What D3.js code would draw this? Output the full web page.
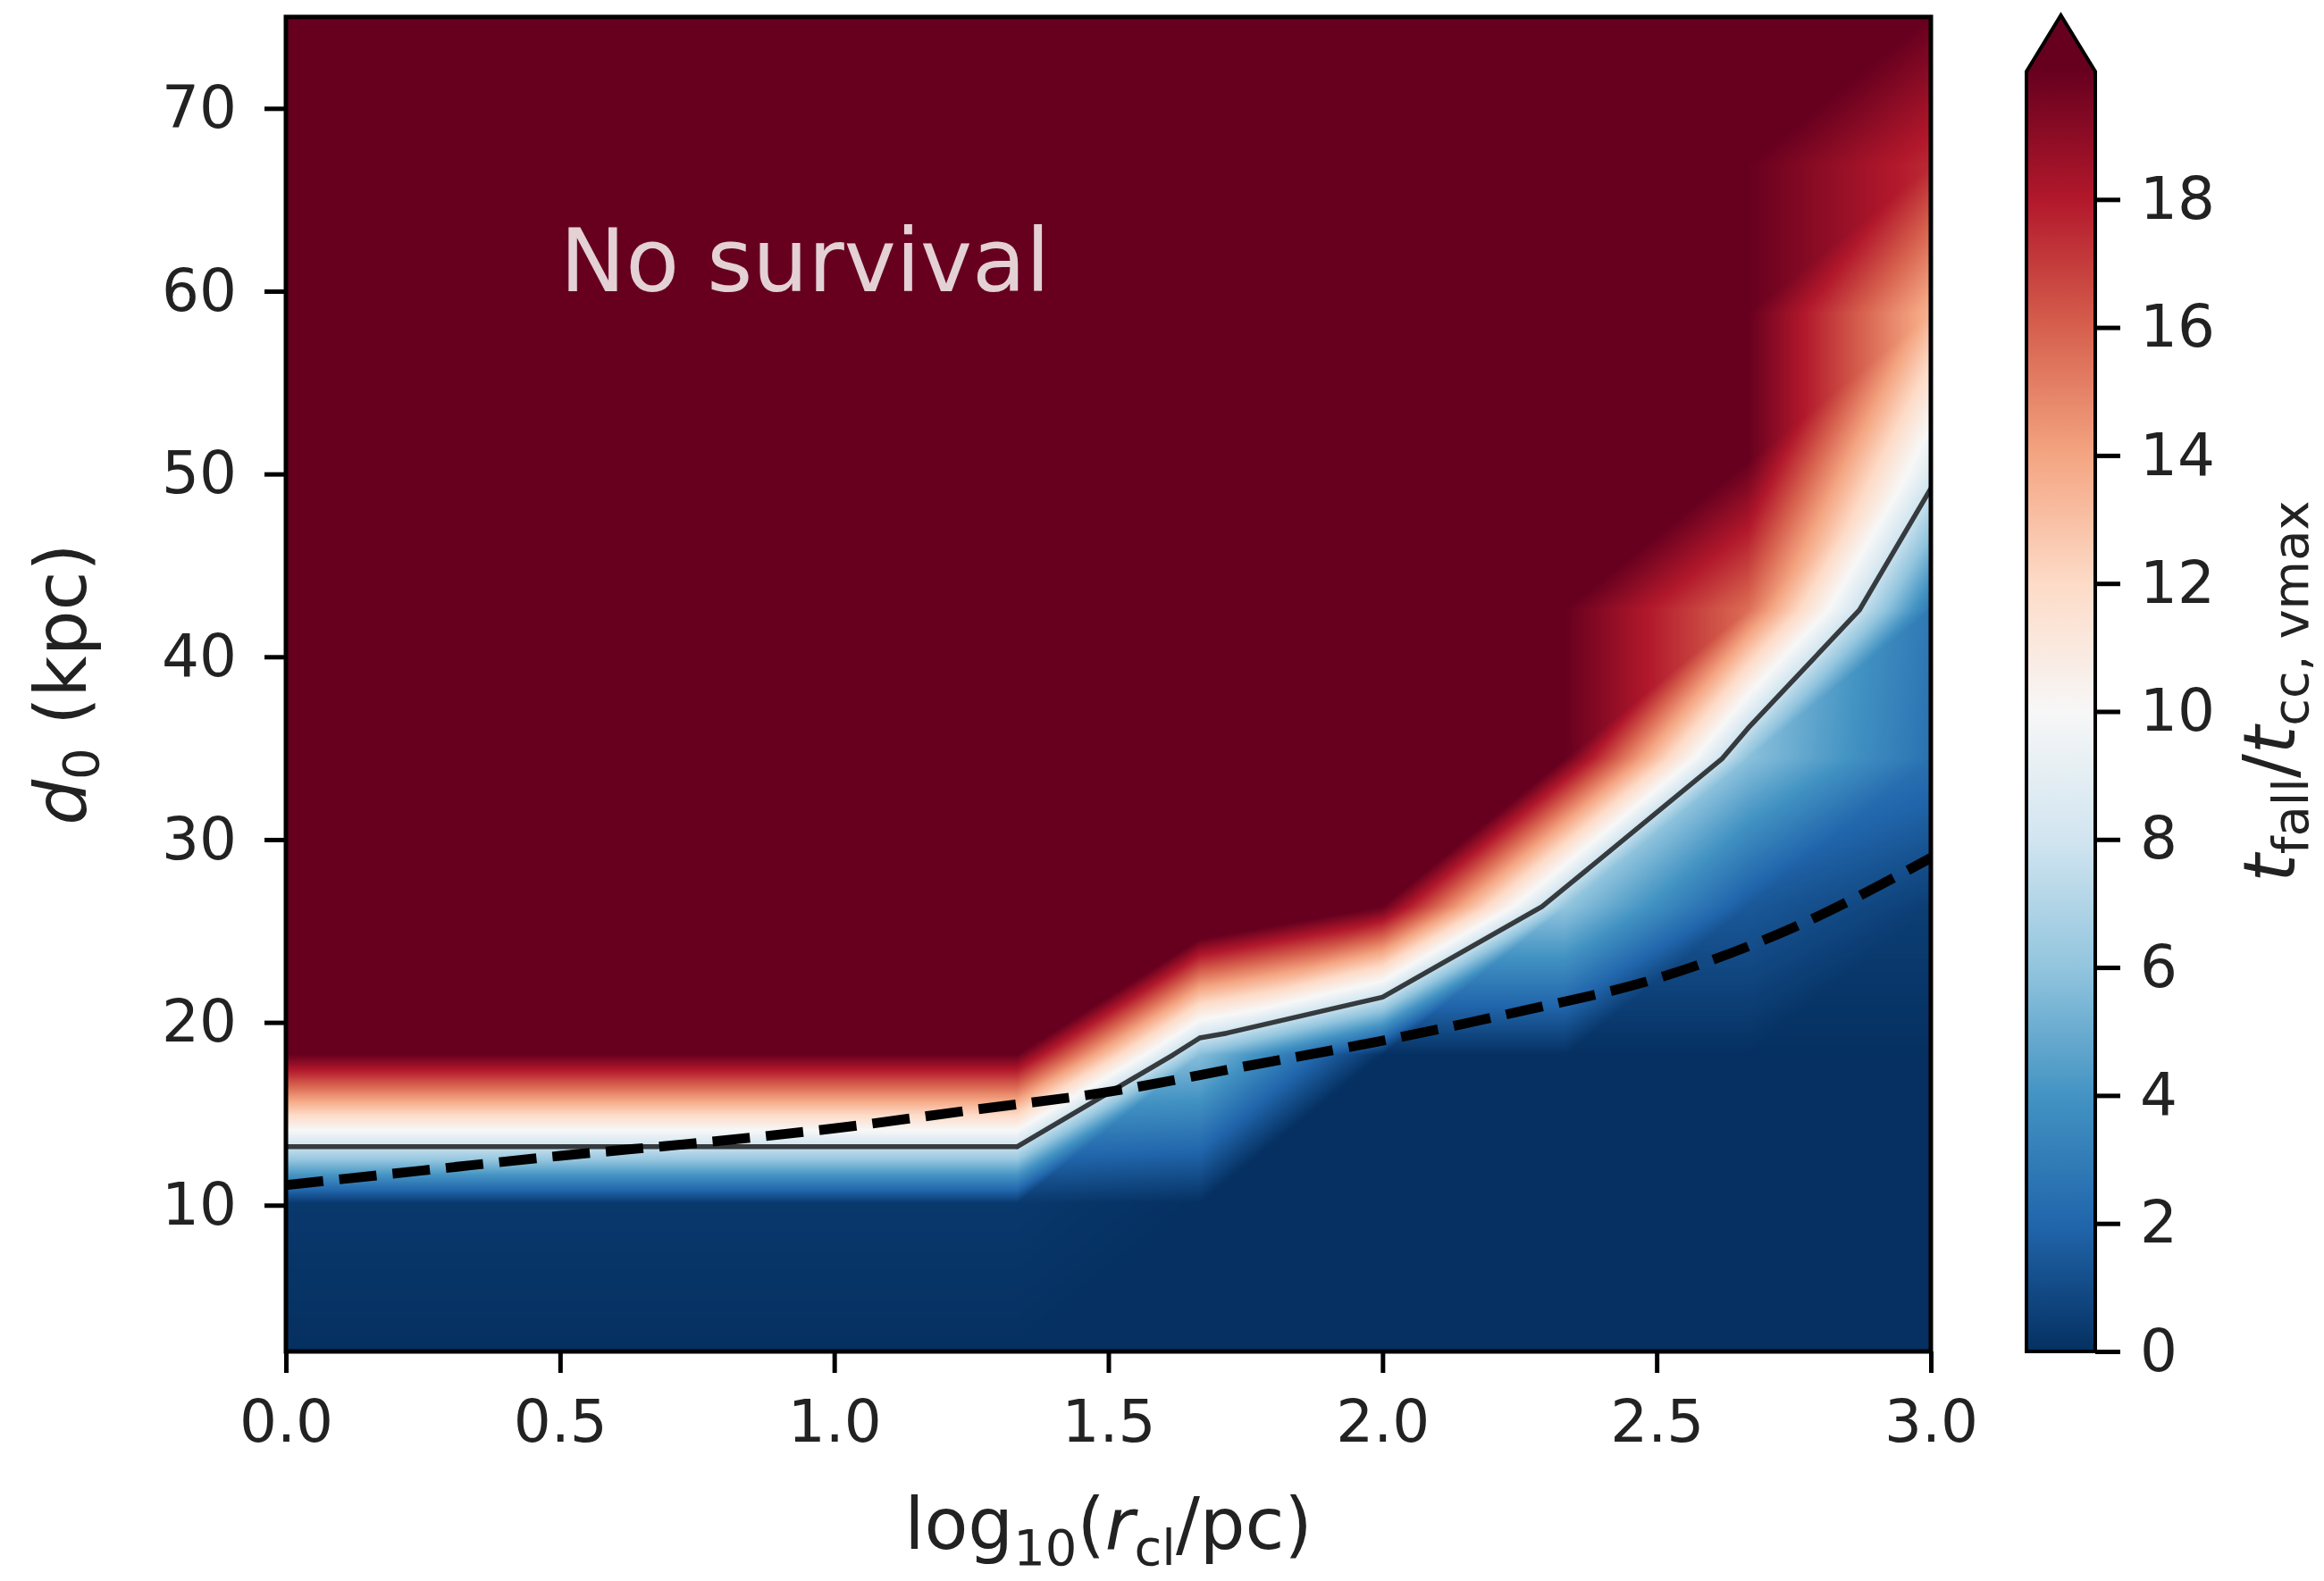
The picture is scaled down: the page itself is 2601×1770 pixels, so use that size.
<!DOCTYPE html>
<html>
<head>
<meta charset="utf-8">
<script src="https://cdn.jsdelivr.net/npm/d3@7/dist/d3.min.js"></script>
<style>
html,body{margin:0;padding:0;background:#fff;}
svg{display:block;font-family:"DejaVu Sans",sans-serif;}
</style>
</head>
<body>
<svg id="fig" width="2601" height="1770"></svg>
<script>
// ---------------- data ----------------
// grid nodes: log10(r_cl/pc) columns and d0 (kpc) rows
const xNodes = [0, 0.3333, 0.6667, 1, 1.3333, 1.6667, 2, 2.3333, 2.6667, 3];
const dNodes = [2, 10.11, 18.22, 26.33, 34.44, 42.56, 50.67, 58.78, 66.89, 75];
// t_fall / t_cc,vmax on the grid (one row per d0 node; 20 and above = no survival)
const row0 = [0, 0, 0, 0, 0, 0, 0, 0, 0, 0];
const row1 = [0.3, 0.3, 0.3, 0.3, 0.3, 0, 0, 0, 0, 0];
const row2 = [20, 20, 20, 20, 20, 5.7, 0, 0, 0, 0];
const row3 = [20, 20, 20, 20, 20, 24, 20, 6.0, 1.5, 0.5];
const row4 = [20, 20, 20, 20, 20, 20, 20, 20, 5.8, 2.5];
const row5 = [20, 20, 20, 20, 20, 20, 20, 20, 15.6, 2.8];
const row6 = [20, 20, 20, 20, 20, 20, 20, 20, 20, 8.9];
const row7 = [20, 20, 20, 20, 20, 20, 20, 20, 20, 13.5];
const row8 = [20, 20, 20, 20, 20, 20, 20, 20, 20, 17.5];
const row9 = [20, 20, 20, 20, 20, 20, 20, 20, 20, 20];
const tRatio = [row0, row1, row2, row3, row4, row5, row6, row7, row8, row9];
const contourLevel = 7.8;
// dashed curve
const limitX  = [0, 0.25, 0.5, 0.75, 1.0, 1.25, 1.5, 1.75, 2.0, 2.25, 2.5, 2.75, 3.0];
const limitD0 = [11.1, 11.9, 12.7, 13.4, 14.2, 15.2, 16.2, 17.6, 19.0, 20.6, 22.4, 25.2, 29.0];
// ticks
const xTicks = [0, 0.5, 1.0, 1.5, 2.0, 2.5, 3.0];
const yTicks = [10, 20, 30, 40, 50, 60, 70];
const cbTicks = [0, 2, 4, 6, 8, 10, 12, 14, 16, 18];
const vmin = 0, vmax = 20;
const annotation = {x: 0.5, y: 60, text: "No survival"};

// ---------------- layout ----------------
const L = 320, R = 2161, T = 19, B = 1513;
const cbL = 2268, cbR = 2345, cbTop = 80, cbTip = 17;
const svg = d3.select("#fig");
const defs = svg.append("defs");

const x = d3.scaleLinear().domain(d3.extent(xNodes)).range([L, R]);
const y = d3.scaleLinear().domain(d3.extent(dNodes)).range([B, T]);

// RdBu_r colormap (matplotlib anchor colours)
const rdbuR = ["#053061","#2166ac","#4393c3","#92c5de","#d1e5f0","#f7f7f7",
               "#fddbc7","#f4a582","#d6604d","#b2182b","#67001f"];
const cmap = d3.scaleLinear()
  .domain(rdbuR.map((_, k) => vmin + k * (vmax - vmin) / (rdbuR.length - 1)))
  .range(rdbuR).interpolate(d3.interpolateRgb).clamp(true);
const LUTN = 1024;
const lut = d3.range(LUTN).map(k => d3.rgb(cmap(vmin + (vmax - vmin) * k / (LUTN - 1))));

// gouraud shading on a triangulated grid (each quad split along its rising diagonal)
function fieldValue(xv, dv) {
  const j = Math.min(Math.max(d3.bisectRight(xNodes, xv) - 1, 0), xNodes.length - 2);
  const i = Math.min(Math.max(d3.bisectRight(dNodes, dv) - 1, 0), dNodes.length - 2);
  const u = (xv - xNodes[j]) / (xNodes[j + 1] - xNodes[j]);
  const v = (dv - dNodes[i]) / (dNodes[i + 1] - dNodes[i]);
  const a = tRatio[i][j], b = tRatio[i][j + 1], c = tRatio[i + 1][j + 1], d = tRatio[i + 1][j];
  if (v <= u) return a + (b - a) * u + (c - b) * v;
  return a + (c - d) * u + (d - a) * v;
}

// field image
const pw = R - L, ph = B - T;
const canvas = document.createElement("canvas");
canvas.width = pw; canvas.height = ph;
const ctx = canvas.getContext("2d");
const img = ctx.createImageData(pw, ph);
const xs = d3.range(pw).map(px => x.invert(L + px + 0.5));
for (let py = 0; py < ph; py++) {
  const dv = y.invert(T + py + 0.5);
  for (let px = 0; px < pw; px++) {
    const val = fieldValue(xs[px], dv);
    let k = Math.round((val - vmin) / (vmax - vmin) * (LUTN - 1));
    k = Math.max(0, Math.min(LUTN - 1, k));
    const col = lut[k];
    const o = (py * pw + px) * 4;
    img.data[o] = col.r; img.data[o + 1] = col.g; img.data[o + 2] = col.b; img.data[o + 3] = 255;
  }
}
ctx.putImageData(img, 0, 0);
svg.append("image").attr("x", L).attr("y", T).attr("width", pw).attr("height", ph)
  .attr("preserveAspectRatio", "none").attr("href", canvas.toDataURL("image/png"));

// contour on the same triangulation
function triContourSegments(level) {
  const segs = [];
  for (let i = 0; i < dNodes.length - 1; i++) {
    for (let j = 0; j < xNodes.length - 1; j++) {
      const A = [xNodes[j], dNodes[i], tRatio[i][j]];
      const Bn = [xNodes[j + 1], dNodes[i], tRatio[i][j + 1]];
      const C = [xNodes[j + 1], dNodes[i + 1], tRatio[i + 1][j + 1]];
      const D = [xNodes[j], dNodes[i + 1], tRatio[i + 1][j]];
      for (const tri of [[A, Bn, C], [A, C, D]]) {
        const pts = [];
        for (let k = 0; k < 3; k++) {
          const p = tri[k], q = tri[(k + 1) % 3];
          if ((p[2] < level) !== (q[2] < level)) {
            const t = (level - p[2]) / (q[2] - p[2]);
            pts.push([p[0] + t * (q[0] - p[0]), p[1] + t * (q[1] - p[1])]);
          }
        }
        if (pts.length === 2) segs.push(pts);
      }
    }
  }
  return segs;
}
const segs = triContourSegments(contourLevel);
defs.append("clipPath").attr("id", "plotclip")
  .append("rect").attr("x", L).attr("y", T).attr("width", pw).attr("height", ph);
svg.append("path")
  .attr("clip-path", "url(#plotclip)")
  .attr("d", segs.map(s => `M${x(s[0][0])},${y(s[0][1])}L${x(s[1][0])},${y(s[1][1])}`).join(""))
  .attr("fill", "none").attr("stroke", "#000").attr("stroke-opacity", 0.74).attr("stroke-width", 5.5)
  .attr("stroke-linecap", "round").attr("stroke-linejoin", "round");

// dashed curve
const line = d3.line().x(d => x(d[0])).y(d => y(d[1])).curve(d3.curveMonotoneX);
svg.append("path")
  .attr("clip-path", "url(#plotclip)")
  .attr("d", line(limitX.map((v, k) => [v, limitD0[k]])))
  .attr("fill", "none").attr("stroke", "#000").attr("stroke-width", 11)
  .attr("stroke-dasharray", "42,18");

// annotation
svg.append("text").attr("x", x(annotation.x)).attr("y", y(annotation.y))
  .attr("font-size", 98).attr("fill", "#fff").attr("fill-opacity", 0.82)
  .text(annotation.text);

// frame
svg.append("rect").attr("x", L).attr("y", T).attr("width", pw).attr("height", ph)
  .attr("fill", "none").attr("stroke", "#000").attr("stroke-width", 5);

// axes
function styleAxis(g) {
  g.select(".domain").remove();
  g.selectAll(".tick line").attr("stroke", "#000").attr("stroke-width", 5);
  g.selectAll(".tick text").attr("fill", "#222").attr("font-size", 66)
    .attr("font-family", "DejaVu Sans");
}
svg.append("g").attr("transform", `translate(0,${B})`)
  .call(d3.axisBottom(x).tickValues(xTicks).tickFormat(d3.format(".1f")).tickSize(24).tickPadding(30))
  .call(styleAxis);
svg.append("g").attr("transform", `translate(${L},0)`)
  .call(d3.axisLeft(y).tickValues(yTicks).tickFormat(d3.format("d")).tickSize(24).tickPadding(31))
  .call(styleAxis);

// colorbar
const cbScale = d3.scaleLinear().domain([vmin, vmax]).range([B, cbTop]);
const grad = defs.append("linearGradient").attr("id", "cbgrad")
  .attr("x1", 0).attr("y1", 1).attr("x2", 0).attr("y2", 0);
rdbuR.forEach((col, k) => grad.append("stop").attr("offset", k / (rdbuR.length - 1)).attr("stop-color", col));
svg.append("rect").attr("x", cbL).attr("y", cbTop).attr("width", cbR - cbL).attr("height", B - cbTop)
  .attr("fill", "url(#cbgrad)");
svg.append("path").attr("d", `M${cbL},${cbTop}L${(cbL + cbR) / 2},${cbTip}L${cbR},${cbTop}Z`)
  .attr("fill", rdbuR[rdbuR.length - 1]);
svg.append("path")
  .attr("d", `M${cbL},${B}L${cbL},${cbTop}L${(cbL + cbR) / 2},${cbTip}L${cbR},${cbTop}L${cbR},${B}Z`)
  .attr("fill", "none").attr("stroke", "#000").attr("stroke-width", 4);
svg.append("g").attr("transform", `translate(${cbR},0)`)
  .call(d3.axisRight(cbScale).tickValues(cbTicks).tickFormat(d3.format("d")).tickSize(28).tickPadding(22))
  .call(styleAxis);

// labels
const xl = svg.append("text").attr("x", (L + R) / 2).attr("y", 1734)
  .attr("text-anchor", "middle").attr("font-size", 80).attr("fill", "#222");
xl.append("tspan").text("log");
xl.append("tspan").attr("font-size", 56).attr("dy", 18).text("10");
xl.append("tspan").attr("dy", -18).text("(");
xl.append("tspan").attr("font-style", "italic").text("r");
xl.append("tspan").attr("font-size", 56).attr("dy", 18).text("cl");
xl.append("tspan").attr("dy", -18).text("/pc)");

const yl = svg.append("text").attr("transform", `translate(96,${(T + B) / 2}) rotate(-90)`)
  .attr("text-anchor", "middle").attr("font-size", 80).attr("fill", "#222");
yl.append("tspan").attr("font-style", "italic").text("d");
yl.append("tspan").attr("font-size", 56).attr("dy", 14).text("0");
yl.append("tspan").attr("dy", -14).text(" (kpc)");

const cl = svg.append("text").attr("transform", `translate(2568,774) rotate(-90)`)
  .attr("text-anchor", "middle").attr("font-size", 80).attr("fill", "#222");
cl.append("tspan").attr("font-style", "italic").text("t");
cl.append("tspan").attr("font-size", 56).attr("dy", 15).text("fall");
cl.append("tspan").attr("dy", -15).text("/");
cl.append("tspan").attr("font-style", "italic").text("t");
cl.append("tspan").attr("font-size", 56).attr("dy", 15).text("cc, vmax");
</script>
</body>
</html>
